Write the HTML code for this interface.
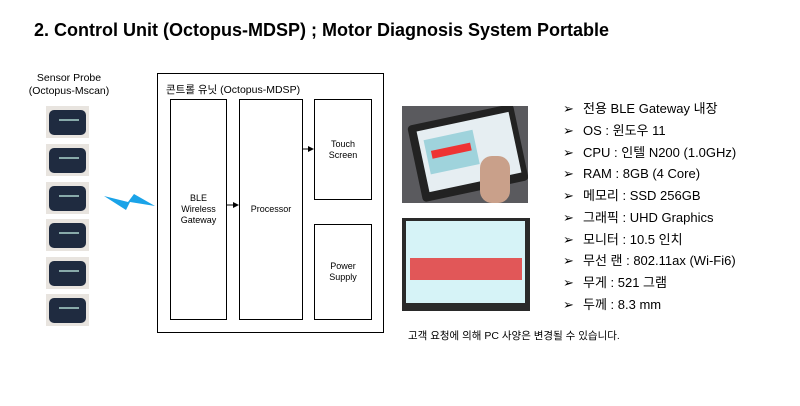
<!DOCTYPE html>
<html><head><meta charset="utf-8"><style>
body{margin:0;width:800px;height:406px;background:#fff;position:relative;overflow:hidden;font-family:"Liberation Sans","Noto Sans CJK KR",sans-serif;color:#000}
.a{position:absolute}
.box{position:absolute;border:1.5px solid #000;box-sizing:border-box;display:flex;align-items:center;justify-content:center;text-align:center;font-size:9px;line-height:11px}
.probe{position:absolute;left:46px;width:43px;height:32px;background:#e8e4df}
.probe div{position:absolute;left:3px;top:4px;width:37px;height:25px;background:#1f2b40;border-radius:5px}
.probe span{position:absolute;left:10px;top:9px;width:20px;height:2px;background:#8aa}
.li{position:absolute;left:563px;font-size:13px;line-height:16px;height:16px;white-space:nowrap}
.li b{font-weight:normal;display:inline-block;width:20px}
</style></head><body>
<div class="a" style="left:34px;top:20px;font-size:18px;font-weight:bold;white-space:nowrap">2. Control Unit (Octopus-MDSP) ; Motor Diagnosis System Portable</div>
<div class="a" style="left:26px;top:72px;font-size:10.5px;text-align:center;width:86px;line-height:13px">Sensor Probe<br>(Octopus-Mscan)</div>
<div class="probe" style="top:106px"><div><span></span></div></div>
<div class="probe" style="top:144px"><div><span></span></div></div>
<div class="probe" style="top:182px"><div><span></span></div></div>
<div class="probe" style="top:219px"><div><span></span></div></div>
<div class="probe" style="top:257px"><div><span></span></div></div>
<div class="probe" style="top:294px"><div><span></span></div></div>
<svg class="a" style="left:100px;top:190px" width="60" height="25"><polygon points="4,6 28,12 34,4 55,16 30,12 26,20" fill="#1aa3e8"/></svg>
<div class="box" style="left:157px;top:73px;width:227px;height:260px"></div>
<div class="a" style="left:166px;top:82px;font-size:10.5px">콘트롤 유닛 (Octopus-MDSP)</div>
<div class="box" style="left:170px;top:99px;width:57px;height:221px">BLE<br>Wireless<br>Gateway</div>
<div class="box" style="left:239px;top:99px;width:64px;height:221px">Processor</div>
<div class="box" style="left:314px;top:99px;width:58px;height:101px">Touch<br>Screen</div>
<div class="box" style="left:314px;top:224px;width:58px;height:96px">Power<br>Supply</div>
<svg class="a" style="left:226px;top:200px" width="14" height="10"><line x1="0" y1="5" x2="8" y2="5" stroke="#000" stroke-width="1"/><polygon points="7,2 13,5 7,8"/></svg>
<svg class="a" style="left:302px;top:144px" width="13" height="10"><line x1="0" y1="5" x2="7" y2="5" stroke="#000"/><polygon points="6,2 12,5 6,8"/></svg>
<div class="a" style="left:402px;top:106px;width:126px;height:97px;background:#5a5a5e;overflow:hidden">
 <div class="a" style="left:12px;top:8px;width:108px;height:78px;background:#222;transform:rotate(-12deg);border-radius:4px"></div>
 <div class="a" style="left:20px;top:15px;width:94px;height:62px;background:#e6eef2;transform:rotate(-12deg)"><div class="a" style="left:5px;top:10px;width:50px;height:35px;background:#9fd3dc"></div><div class="a" style="left:10px;top:22px;width:40px;height:8px;background:#e33"></div></div>
 <div class="a" style="left:78px;top:50px;width:30px;height:47px;background:#c9a08a;border-radius:12px"></div>
</div>
<div class="a" style="left:402px;top:218px;width:128px;height:93px;background:#2a2a2a">
 <div class="a" style="left:4px;top:3px;width:119px;height:82px;background:#d6f3f7"></div>
 <div class="a" style="left:8px;top:40px;width:112px;height:22px;background:#e43030;opacity:.8"></div>
</div>
<div class="li" style="top:101px"><b>➢</b>전용 BLE Gateway 내장</div>
<div class="li" style="top:123px"><b>➢</b>OS : 윈도우 11</div>
<div class="li" style="top:145px"><b>➢</b>CPU : 인텔 N200 (1.0GHz)</div>
<div class="li" style="top:166px"><b>➢</b>RAM : 8GB (4 Core)</div>
<div class="li" style="top:188px"><b>➢</b>메모리 : SSD 256GB</div>
<div class="li" style="top:210px"><b>➢</b>그래픽 : UHD Graphics</div>
<div class="li" style="top:232px"><b>➢</b>모니터 : 10.5 인치</div>
<div class="li" style="top:253px"><b>➢</b>무선 랜 : 802.11ax (Wi-Fi6)</div>
<div class="li" style="top:275px"><b>➢</b>무게 : 521 그램</div>
<div class="li" style="top:297px"><b>➢</b>두께 : 8.3 mm</div>
<div class="a" style="left:408px;top:328px;font-size:10.5px">고객 요청에 의해 PC 사양은 변경될 수 있습니다.</div>
</body></html>
